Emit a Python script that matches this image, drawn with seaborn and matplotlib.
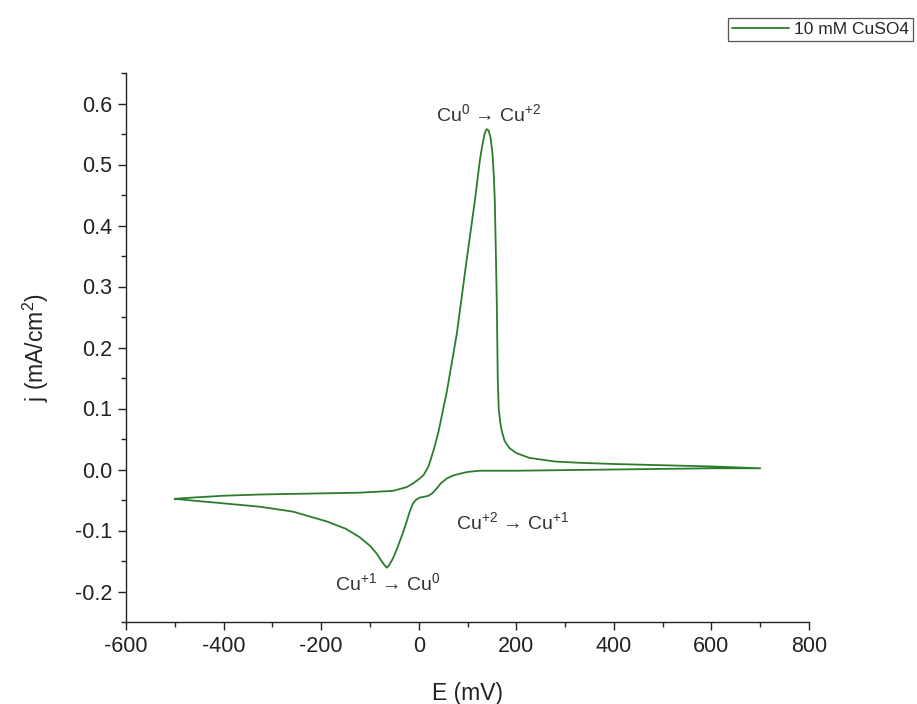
import numpy as np
import pandas as pd
import matplotlib
matplotlib.use("Agg")
import matplotlib.pyplot as plt
from matplotlib.ticker import MultipleLocator
import seaborn as sns

# Cyclic voltammogram of 10 mM CuSO4: anodic sweep (-500 -> 700 mV)
fwd_E = [-500, -463, -400, -326, -258, -189, -121, -53, -25, -12, 0, 10, 20, 26,
         32, 40, 57, 78, 98, 115, 125, 130, 135, 139, 143, 147, 151, 154, 156,
         158, 160, 162, 164, 167, 170, 176, 186, 200, 227, 280, 330, 400, 500,
         600, 700]
fwd_j = [-0.048, -0.046, -0.043, -0.041, -0.040, -0.039, -0.038, -0.035, -0.029,
         -0.023, -0.016, -0.009, 0.005, 0.020, 0.036, 0.060, 0.125, 0.222, 0.342,
         0.440, 0.505, 0.530, 0.550, 0.558, 0.556, 0.545, 0.520, 0.480, 0.440,
         0.360, 0.276, 0.150, 0.100, 0.078, 0.064, 0.047, 0.035, 0.027, 0.019,
         0.013, 0.011, 0.009, 0.007, 0.005, 0.002]

# cathodic sweep (700 -> -500 mV)
rev_E = [700, 600, 500, 400, 300, 200, 125, 100, 84, 70, 57, 45, 37, 28, 20, 10,
         2, -6, -12, -18, -25, -32, -39, -46, -53, -60, -65, -70, -78, -86, -100,
         -121, -150, -189, -258, -326, -393, -463, -500]
rev_j = [0.002, 0.002, 0.001, 0.000, -0.001, -0.002, -0.002, -0.004, -0.007,
         -0.010, -0.015, -0.023, -0.031, -0.039, -0.043, -0.045, -0.046, -0.050,
         -0.056, -0.068, -0.086, -0.103, -0.118, -0.133, -0.146, -0.156, -0.161,
         -0.157, -0.148, -0.138, -0.125, -0.111, -0.097, -0.085, -0.069, -0.061,
         -0.056, -0.051, -0.048]

x_ticks = [-600, -400, -200, 0, 200, 400, 600, 800]
y_ticks = [-0.2, -0.1, 0.0, 0.1, 0.2, 0.3, 0.4, 0.5, 0.6]

cv = pd.DataFrame({
    "E": fwd_E + rev_E,
    "j": fwd_j + rev_j,
    "series": ["10 mM CuSO4"] * (len(fwd_E) + len(rev_E)),
})

sns.set_style("ticks")
plt.rcParams["font.family"] = ["Liberation Sans", "DejaVu Sans"]
plt.rcParams["mathtext.fontset"] = "custom"
plt.rcParams["mathtext.rm"] = "Liberation Sans"
plt.rcParams["mathtext.it"] = "Liberation Sans:italic"

fig = plt.figure(figsize=(9.17, 7.04), dpi=100)
ax = fig.add_axes([126 / 917, 1 - 622 / 704, (809 - 126) / 917, (622 - 73) / 704])

line_color = "#2b7d2b"
sns.lineplot(data=cv, x="E", y="j", hue="series", palette=[line_color],
             sort=False, estimator=None, lw=1.3, ax=ax, legend=True)

ax.set_xlim(-600, 800)
ax.set_ylim(-0.25, 0.65)
ax.set_xticks(x_ticks)
ax.set_yticks(y_ticks)
ax.set_xticklabels([f"{v:d}" for v in x_ticks])
ax.set_yticklabels([f"{v:.1f}" for v in y_ticks])
ax.xaxis.set_minor_locator(MultipleLocator(100))
ax.yaxis.set_minor_locator(MultipleLocator(0.05))
ax.tick_params(which="major", direction="out", length=6, width=1,
               labelsize=15.5, colors="#222222", pad=4)
ax.tick_params(which="minor", direction="out", length=3.5, width=1, colors="#222222")
sns.despine(ax=ax)
for s in ("left", "bottom"):
    ax.spines[s].set_linewidth(1)
    ax.spines[s].set_color("#222222")

ax.set_xlabel("E (mV)", fontsize=16.5, color="#222222", labelpad=18)
ax.set_ylabel("j (mA/cm$^2$)", fontsize=16.5, color="#222222", labelpad=17)

ann_kw = dict(fontsize=14, color="#333333", ha="center", va="center")
ax.text(143, 0.583, "Cu$^0$ \u2192 Cu$^{+2}$", **ann_kw)
ax.text(193, -0.086, "Cu$^{+2}$ \u2192 Cu$^{+1}$", **ann_kw)
ax.text(-64, -0.186, "Cu$^{+1}$ \u2192 Cu$^0$", **ann_kw)

handles, labels = ax.get_legend_handles_labels()
ax.get_legend().remove()
leg = fig.legend(handles, labels, loc="upper right",
                 bbox_to_anchor=(913 / 917, 1 - 18 / 704), borderaxespad=0,
                 fancybox=False, framealpha=1, edgecolor="#555555",
                 fontsize=12.5, handlelength=3.3, handletextpad=0.3,
                 borderpad=0.22)
leg.get_frame().set_linewidth(0.9)

fig.savefig("out.png", dpi=100)
